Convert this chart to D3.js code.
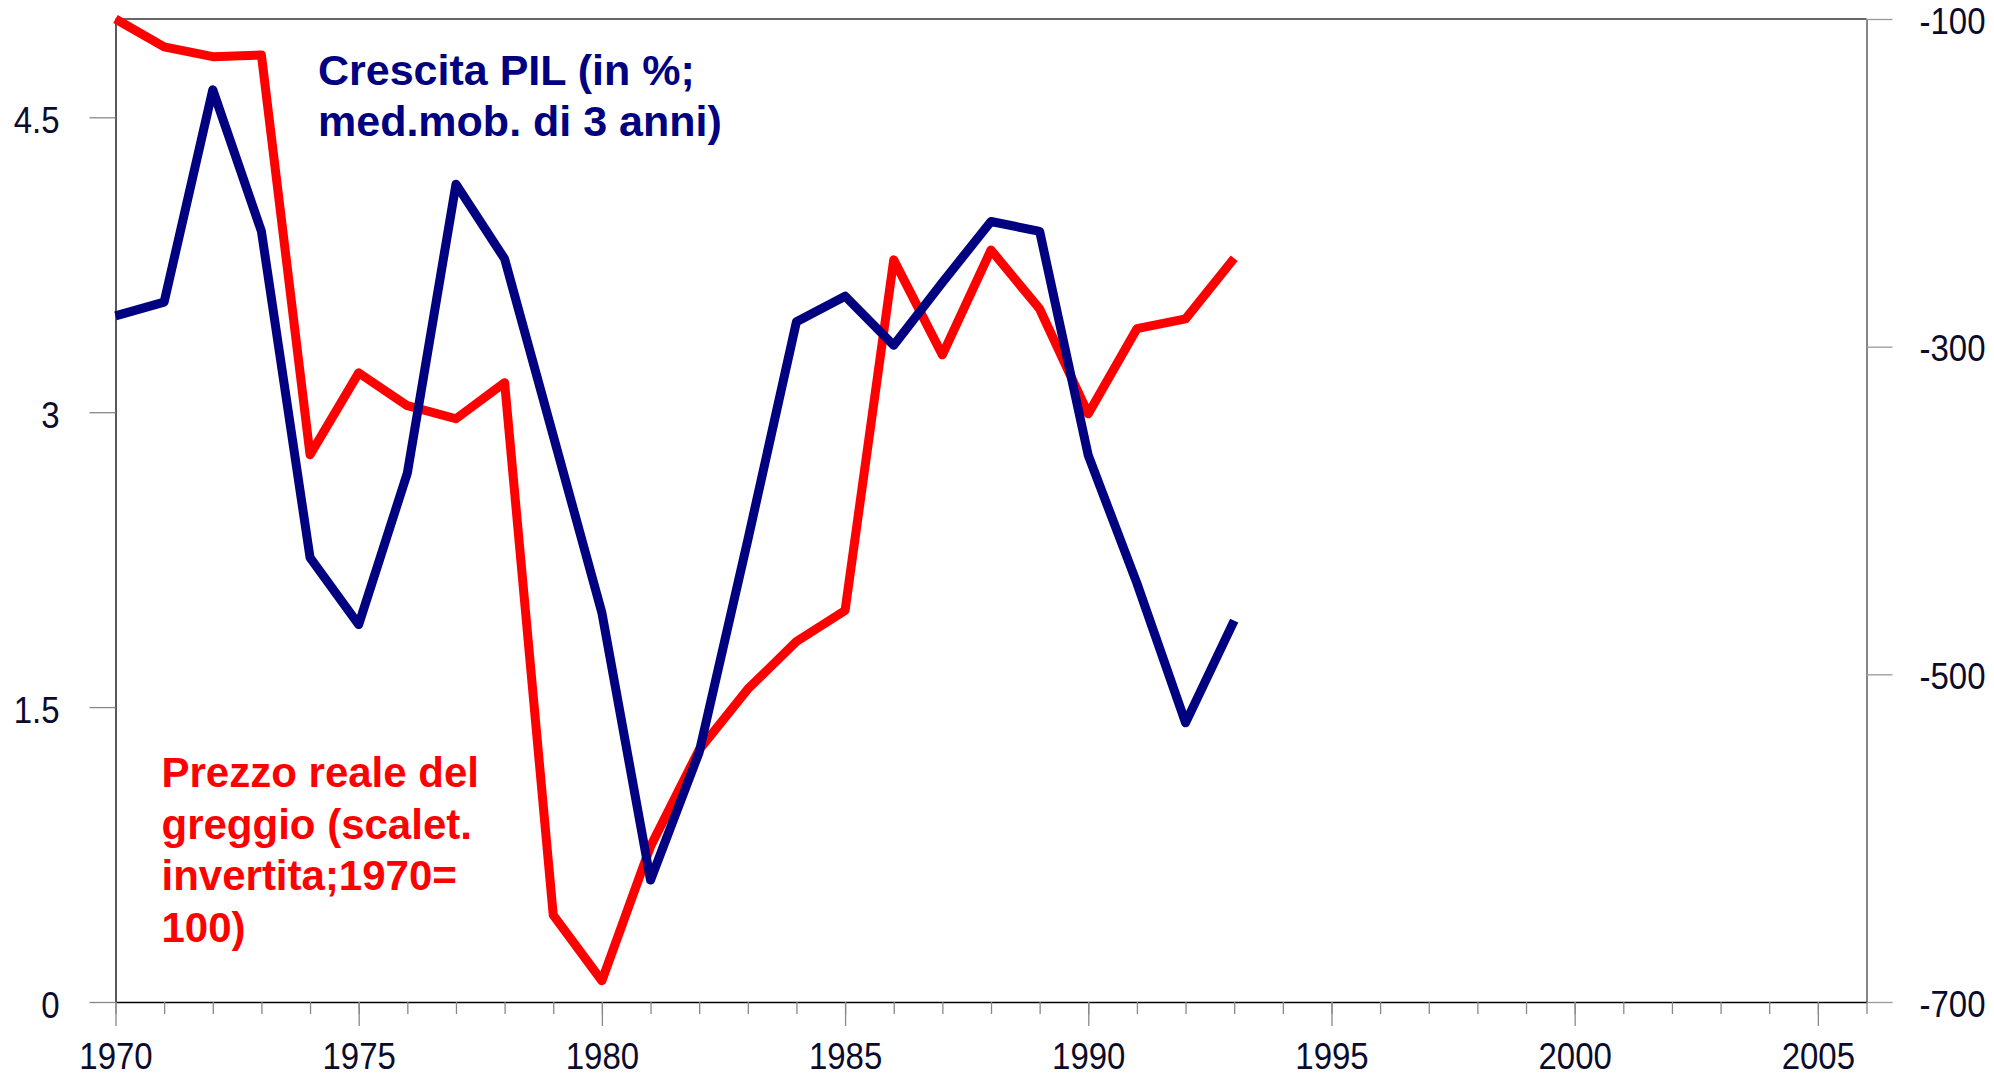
<!DOCTYPE html>
<html>
<head>
<meta charset="utf-8">
<script src="https://d3js.org/d3.v7.min.js"></script>
<style>
  body { margin: 0; background: #fff; }
  svg { display: block; }
  .tick text { font-family: "Liberation Sans", Arial, sans-serif; font-size: 33px; fill: #0b0b2b; }
  .note { font-family: "Liberation Sans", Arial, sans-serif; font-weight: bold; }
</style>
</head>
<body>
<svg id="vis"></svg>

<script>
// years on the x axis
var years = [1970, 1971, 1972, 1973, 1974, 1975, 1976, 1977, 1978, 1979, 1980, 1981,
             1982, 1983, 1984, 1985, 1986, 1987, 1988, 1989, 1990, 1991, 1992, 1993];

// GDP growth, % (3-year moving average) - left axis
var gdpGrowth = [3.49, 3.56, 4.64, 3.92, 2.26, 1.92, 2.69, 4.16, 3.78, 2.88, 1.98, 0.62,
                 1.27, 2.35, 3.46, 3.59, 3.34, 3.66, 3.97, 3.92, 2.78, 2.13, 1.42, 1.94];

// real crude price, inverted scale, 1970 = 100 - right axis
var oilPrice = [-100, -117, -123, -122, -366, -316, -336, -344, -322, -647, -687, -605,
                -546, -509, -480, -461, -247, -305, -241, -277, -341, -289, -283, -246];

// tick values
var leftTicks = [0, 1.5, 3, 4.5];
var rightTicks = [-100, -300, -500, -700];
var xMajorTicks = [1970, 1975, 1980, 1985, 1990, 1995, 2000, 2005];
var xMinorTicks = d3.range(1970, 2007);

var titleGdp = ["Crescita PIL (in %;", "med.mob. di 3 anni)"];
var titleOil = ["Prezzo reale del", "greggio (scalet.", "invertita;1970=", "100)"];

var width = 1994, height = 1077;
var stretch = 1.1; // tick labels are a bit taller than plain Arial

var svg = d3.select("#vis")
    .attr("width", width)
    .attr("height", height);

// scales
var x = d3.scaleLinear().domain([1970, 2006]).range([115.5, 1866.5]);
var yLeft = d3.scaleLinear().domain([0, 5]).range([1002, 19]);
var yRight = d3.scaleLinear().domain([-700, -100]).range([1002, 19]);

// top frame line
svg.append("line")
    .attr("x1", x(1970)).attr("x2", x(2006))
    .attr("y1", yLeft(5)).attr("y2", yLeft(5))
    .attr("stroke", "#333").attr("stroke-width", 1.3);

// left axis
var gLeft = svg.append("g")
    .attr("transform", "translate(" + x(1970) + ",0)")
    .call(d3.axisLeft(yLeft).tickValues(leftTicks).tickSize(26).tickSizeOuter(0)
        .tickPadding(30).tickFormat(function(d) { return String(d); }));
gLeft.select(".domain").attr("stroke", "#000").attr("stroke-width", 1.3);
gLeft.selectAll(".tick line").attr("stroke", "#888").attr("stroke-width", 1.3);
gLeft.selectAll(".tick text")
    .attr("dy", null).attr("y", 15 / stretch)
    .attr("transform", "scale(1," + stretch + ")");

// right axis
var gRight = svg.append("g")
    .attr("transform", "translate(" + x(2006) + ",0)")
    .call(d3.axisRight(yRight).tickValues(rightTicks).tickSize(26).tickSizeOuter(0)
        .tickPadding(27).tickFormat(function(d) { return String(d); }));
gRight.select(".domain").attr("stroke", "#444").attr("stroke-width", 1.3);
gRight.selectAll(".tick line").attr("stroke", "#999").attr("stroke-width", 1.3);
gRight.selectAll(".tick text")
    .attr("dy", null).attr("y", 14 / stretch)
    .attr("transform", "scale(1," + stretch + ")");

// bottom axis: minor ticks every year
var gMinor = svg.append("g")
    .attr("transform", "translate(0," + yLeft(0) + ")")
    .call(d3.axisBottom(x).tickValues(xMinorTicks).tickSize(12).tickSizeOuter(0)
        .tickFormat(""));
gMinor.select(".domain").attr("stroke", "#000").attr("stroke-width", 1.3);
gMinor.selectAll(".tick line").attr("stroke", "#888").attr("stroke-width", 1.3);

// bottom axis: major ticks with labels
var gMajor = svg.append("g")
    .attr("transform", "translate(0," + yLeft(0) + ")")
    .call(d3.axisBottom(x).tickValues(xMajorTicks).tickSize(24).tickSizeOuter(0)
        .tickPadding(21).tickFormat(d3.format("d")));
gMajor.select(".domain").remove();
gMajor.selectAll(".tick line").attr("stroke", "#888").attr("stroke-width", 1.3);
gMajor.selectAll(".tick text")
    .attr("dy", null).attr("y", 67 / stretch)
    .attr("transform", "scale(1," + stretch + ")");

// lines
var oilLine = d3.line()
    .x(function(d, i) { return x(years[i]); })
    .y(function(d) { return yRight(d); });

var gdpLine = d3.line()
    .x(function(d, i) { return x(years[i]); })
    .y(function(d) { return yLeft(d); });

svg.append("path")
    .datum(oilPrice)
    .attr("d", oilLine)
    .attr("fill", "none")
    .attr("stroke", "#ff0000")
    .attr("stroke-width", 9)
    .attr("stroke-linejoin", "round");

svg.append("path")
    .datum(gdpGrowth)
    .attr("d", gdpLine)
    .attr("fill", "none")
    .attr("stroke", "#000080")
    .attr("stroke-width", 9)
    .attr("stroke-linejoin", "round");

// annotations
svg.append("text")
    .attr("class", "note")
    .attr("font-size", 43)
    .attr("fill", "#000080")
    .selectAll("tspan")
    .data(titleGdp)
    .join("tspan")
    .attr("x", 318)
    .attr("y", function(d, i) { return 84.5 + i * 51.5; })
    .text(function(d) { return d; });

svg.append("text")
    .attr("class", "note")
    .attr("font-size", 42)
    .attr("fill", "#ff0000")
    .selectAll("tspan")
    .data(titleOil)
    .join("tspan")
    .attr("x", 161.5)
    .attr("y", function(d, i) { return 787 + i * 51.5; })
    .text(function(d) { return d; });
</script>
</body>
</html>
